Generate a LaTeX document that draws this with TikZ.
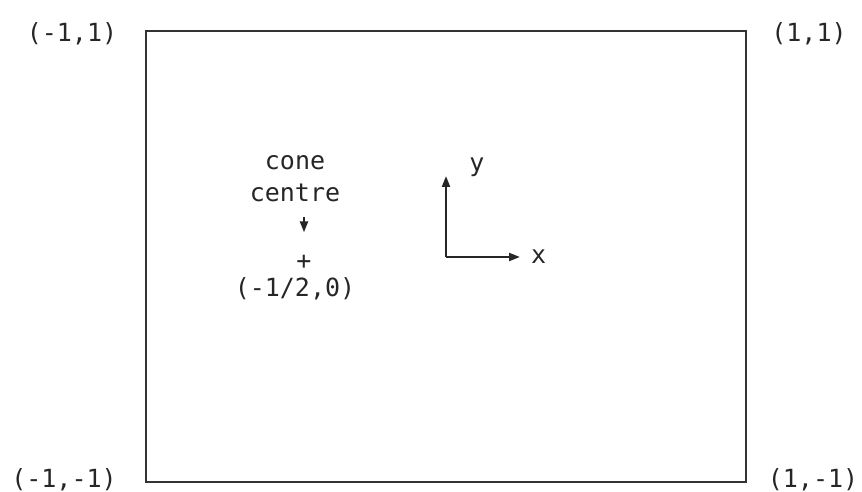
\documentclass[tikz,border=0pt]{standalone}
\usepackage{fontspec}
\setmonofont{DejaVu Sans Mono}
\usetikzlibrary{arrows.meta, positioning}
\tikzset{
    coordtext/.style={inner sep=0pt, text=black!85, font=\fontsize{25}{28}\selectfont\ttfamily, text height=18pt, text depth=5pt},
    frame/.style={draw=black!80, line width=2pt},
    arrow/.style={-{Triangle[length=11pt, width=8pt]}, line width=2.2pt, draw=black!85}
}
\begin{document}
\begin{tikzpicture}[x=1pt, y=1pt]
        \useasboundingbox (0,0) rectangle (862,492);

        % Cornice
        \coordinate (nw) at (146,461);
        \coordinate (se) at (746,10);
        \draw [frame] (nw) rectangle (se);

        % Angoli
        \node (topleft) [coordtext] at (72,457) {(-1,1)};
        \node (topright) [coordtext] at (809,457) {(1,1)};
        \node (bottomleft) [coordtext] at (64,11) {(-1,-1)};
        \node (bottomright) [coordtext] at (813,11) {(1,-1)};

        % Centro del cono
        \node (cone) [coordtext] at (295,329) {cone};
        \node (centre) [coordtext, below=9pt of cone] {centre};
        \node (plus) [coordtext] at (304,229) {+};
        \node (conept) [coordtext] at (295,202) {(-1/2,0)};
        \draw [arrow, shorten <=10pt] (centre.south -| plus) -- ([yshift=19pt]plus.north);

        % Assi
        \coordinate (origin) at (446,235);
        \coordinate (ytip) at (446,316);
        \coordinate (xtip) at (520,235);
        \draw [arrow] (origin) -- (ytip);
        \draw [arrow] (origin) -- (xtip);
        \node (ylab) [coordtext] at (477,327) {y};
        \node (xlab) [coordtext, right=11pt of xtip] {x};

    \end{tikzpicture}
\end{document}
